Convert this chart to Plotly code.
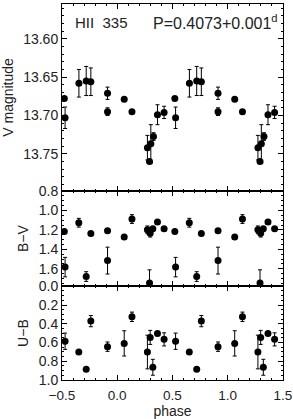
import plotly.graph_objects as go

# ---- data (phase in [0,1), values, 1-sigma errors) ----
v_phase = [0.063, 0.133, 0.273, 0.292, 0.304, 0.328, 0.364, 0.424, 0.521, 0.528,
           0.653, 0.719, 0.761, 0.912, 0.912]
v_mag = [13.679, 13.695, 13.742, 13.760, 13.737, 13.7275, 13.699, 13.696, 13.678, 13.703,
         13.658, 13.655, 13.656, 13.671, 13.695]
v_err = [0.0, 0.0, 0.016, 0.0, 0.025, 0.005, 0.013, 0.008, 0.0, 0.014,
         0.018, 0.019, 0.018, 0.008, 0.005]

bv_phase = [0.063, 0.133, 0.273, 0.292, 0.298, 0.322, 0.364, 0.424, 0.521, 0.528,
            0.652, 0.719, 0.761, 0.912, 0.912]
bv_val = [1.272, 1.088, 1.199, 1.745, 1.233, 1.189, 1.119, 1.189, 1.217, 1.582,
          1.126, 1.679, 1.237, 1.209, 1.515]
bv_err = [0.0, 0.045, 0.04, 0.135, 0.04, 0.0, 0.0, 0.0, 0.0, 0.10,
          0.045, 0.05, 0.0, 0.0, 0.138]

ub_phase = [0.063, 0.133, 0.273, 0.298, 0.322, 0.364, 0.424, 0.528, 0.652, 0.719,
            0.761, 0.912]
ub_val = [0.61, 0.326, 0.702, 0.546, 0.865, 0.503, 0.567, 0.587, 0.702, 0.886,
          0.372, 0.645]
ub_err = [0.135, 0.05, 0.18, 0.075, 0.085, 0.0, 0.07, 0.087, 0.0, 0.0,
          0.06, 0.05]

PH_LO, PH_HI = -0.5, 1.5


def unfold(phase, val, err):
    xs, ys, es = [], [], []
    for p, v, e in zip(phase, val, err):
        for s in (-1, 0, 1):
            x = p + s
            if PH_LO <= x <= PH_HI:
                xs.append(x)
                ys.append(v)
                es.append(e)
    return xs, ys, es


FONT = "Liberation Sans"
TXT = "#222222"

fig = go.Figure()


def add_panel(phase, val, err, xa, ya):
    xs, ys, es = unfold(phase, val, err)
    fig.add_trace(go.Scatter(
        x=xs, y=ys, mode="markers", xaxis=xa, yaxis=ya,
        marker=dict(color="black", size=7, line=dict(width=0)),
        error_y=dict(type="data", array=es, visible=True, color="black",
                     thickness=1, width=2),
        showlegend=False, hoverinfo="skip"))


add_panel(ub_phase, ub_val, ub_err, "x", "y")
add_panel(bv_phase, bv_val, bv_err, "x2", "y2")
add_panel(v_phase, v_mag, v_err, "x3", "y3")

common_x = dict(range=[PH_LO, PH_HI], tick0=0, dtick=0.5, ticks="inside", ticklen=5,
                tickwidth=1, tickcolor="black", showline=True, linecolor="black",
                linewidth=1, mirror="ticks", showgrid=False, zeroline=False,
                automargin=False,
                minor=dict(dtick=0.1, ticks="inside", ticklen=2, tickcolor="black",
                           showgrid=False),
                tickfont=dict(family=FONT, size=13.5, color=TXT), tickformat=".1f")

common_y = dict(ticks="inside", ticklen=5, tickwidth=1, tickcolor="black",
                showline=True, linecolor="black", linewidth=1, mirror="ticks",
                showgrid=False, zeroline=False, automargin=False,
                tickfont=dict(family=FONT, size=14, color=TXT),
                title_font=dict(family=FONT, size=14, color=TXT), title_standoff=6)

d1, d2 = 0.2495, 0.5029

fig.update_layout(
    template="none",
    width=293, height=419,
    margin=dict(l=62, r=10, t=4, b=39),
    paper_bgcolor="white", plot_bgcolor="white",
    xaxis=dict(**common_x, anchor="y", domain=[0, 1], ticklabelstandoff=3,
               title=dict(text="phase", font=dict(family=FONT, size=14, color=TXT),
                          standoff=5)),
    xaxis2=dict(**common_x, anchor="y2", domain=[0, 1], matches="x",
                showticklabels=False),
    xaxis3=dict(**common_x, anchor="y3", domain=[0, 1], matches="x",
                showticklabels=False),
    yaxis=dict(**common_y, anchor="x", domain=[0, d1], range=[1.001, -0.001],
               tick0=0, dtick=0.2, tickformat=".1f",
               minor=dict(dtick=0.05, ticks="inside", ticklen=2, tickcolor="black"),
               title=dict(text="U\u2212B")),
    yaxis2=dict(**common_y, anchor="x2", domain=[d1, d2], range=[1.778, 0.799],
                tick0=0.8, dtick=0.2, tickformat=".1f",
                minor=dict(dtick=0.05, ticks="inside", ticklen=2, tickcolor="black"),
                title=dict(text="B\u2212V")),
    yaxis3=dict(**common_y, anchor="x3", domain=[d2, 1], range=[13.7984, 13.5546],
                tick0=13.6, dtick=0.05, tickformat=".2f",
                minor=dict(dtick=0.01, ticks="inside", ticklen=2, tickcolor="black"),
                title=dict(text="V magnitude")),
    annotations=[
        dict(text="HII\u00a0\u00a0335", xref="paper", yref="paper", x=0.048, y=0.9516,
             xanchor="left", yanchor="middle", showarrow=False,
             font=dict(family=FONT, size=15, color=TXT)),
        dict(text="P=0.4073+0.001<sup>d</sup>", xref="paper", yref="paper",
             x=0.986, y=0.9516, xanchor="right", yanchor="middle", showarrow=False,
             font=dict(family=FONT, size=16, color=TXT)),
    ],
)

fig.write_html("out.html",
               config={"displayModeBar": False, "staticPlot": True},
               post_script="document.body.style.margin='0px';"
                           "document.body.style.overflow='hidden';")
